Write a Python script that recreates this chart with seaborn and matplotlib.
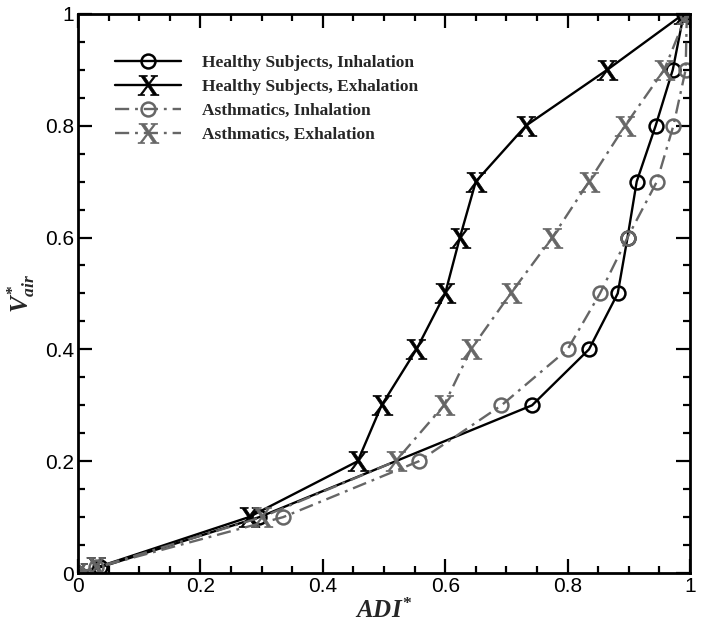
import pandas as pd
import matplotlib.pyplot as plt
import seaborn as sns
import numpy as np
from matplotlib.ticker import MultipleLocator

# ---------------------------------------------------------
# data (ADI* vs V*_air)
# ---------------------------------------------------------
healthy_in_y = [0.0, 0.01, 0.1, 0.3, 0.4, 0.5, 0.6, 0.7, 0.8, 0.9, 1.0]
healthy_in_x = [0.0, 0.035, 0.296, 0.742, 0.835, 0.882, 0.898, 0.913, 0.944, 0.972, 0.99]

healthy_ex_y = [0.0, 0.01, 0.1, 0.2, 0.3, 0.4, 0.5, 0.6, 0.7, 0.8, 0.9, 1.0]
healthy_ex_x = [0.0, 0.03, 0.279, 0.457, 0.496, 0.553, 0.600, 0.624, 0.650, 0.732, 0.865, 0.99]

asthma_in_y = [0.0, 0.01, 0.1, 0.2, 0.3, 0.4, 0.5, 0.6, 0.7, 0.8, 0.9, 1.0]
asthma_in_x = [0.0, 0.03, 0.335, 0.557, 0.692, 0.800, 0.853, 0.898, 0.946, 0.973, 0.993, 0.995]

asthma_ex_y = [0.0, 0.01, 0.1, 0.2, 0.3, 0.4, 0.5, 0.6, 0.7, 0.8, 0.9, 1.0]
asthma_ex_x = [0.0, 0.03, 0.30, 0.519, 0.598, 0.642, 0.707, 0.775, 0.835, 0.894, 0.958, 0.995]

labels = ["Healthy Subjects, Inhalation", "Healthy Subjects, Exhalation",
          "Asthmatics, Inhalation", "Asthmatics, Exhalation"]
tick_labels = ["0", "0.2", "0.4", "0.6", "0.8", "1"]

GRAY = "#666666"

sns.set_style("ticks")
plt.rcParams["font.family"] = ["Liberation Sans", "DejaVu Sans"]
plt.rcParams["mathtext.fontset"] = "custom"
plt.rcParams["mathtext.rm"] = "Liberation Serif:bold"
plt.rcParams["mathtext.it"] = "Liberation Serif:italic:bold"
plt.rcParams["mathtext.bf"] = "Liberation Serif:bold"
plt.rcParams["mathtext.sf"] = "Liberation Serif"

fig = plt.figure(figsize=(7.04, 6.27), dpi=100)
ax = fig.add_axes([0.111, 0.086, 0.869, 0.892])

series = [
    (healthy_in_x, healthy_in_y, labels[0], "black", "-", "o"),
    (healthy_ex_x, healthy_ex_y, labels[1], "black", "-", r"$\mathsf{X}$"),
    (asthma_in_x, asthma_in_y, labels[2], GRAY, "dashdot", "o"),
    (asthma_ex_x, asthma_ex_y, labels[3], GRAY, "dashdot", r"$\mathsf{X}$"),
]

for xs, ys, lab, col, ls, mk in series:
    df = pd.DataFrame({"ADI": xs, "V": ys})
    is_circle = mk == "o"
    sns.lineplot(
        data=df, x="ADI", y="V", ax=ax, sort=False, estimator=None,
        color=col, label=lab, marker=mk,
        markersize=10 if is_circle else 15,
        markerfacecolor="none" if is_circle else col,
        markeredgecolor=col,
        markeredgewidth=1.8 if is_circle else 0.5,
        linewidth=1.7,
    )
    if ls == "dashdot":
        ax.lines[-1].set_dashes([6, 2.5, 1.2, 2.5])

ax.set_xlim(0, 1)
ax.set_ylim(0, 1)
ax.set_xticks(np.arange(0, 1.01, 0.2))
ax.set_xticklabels(tick_labels)
ax.set_yticks(np.arange(0, 1.01, 0.2))
ax.set_yticklabels(tick_labels)
ax.xaxis.set_minor_locator(MultipleLocator(0.05))
ax.yaxis.set_minor_locator(MultipleLocator(0.05))

ax.tick_params(which="both", direction="in", top=True, right=True,
               width=1.6, labelsize=15, pad=3, color="black", labelcolor="black")
ax.tick_params(which="major", length=10)
ax.tick_params(which="minor", length=5)
for sp in ax.spines.values():
    sp.set_linewidth(2)
    sp.set_color("black")

ax.set_xlabel(r"$ADI^{*}$", fontsize=18, labelpad=2)
ax.set_ylabel(r"$V_{air}^{*}$", fontsize=18, labelpad=6)

ax.legend(loc="upper left", bbox_to_anchor=(0.035, 0.955), frameon=False,
          handlelength=3.8, handletextpad=1.2, labelspacing=0.45,
          prop={"family": "Liberation Serif", "weight": "bold", "size": 12.5})

plt.savefig("out.png", dpi=100)
plt.close()
